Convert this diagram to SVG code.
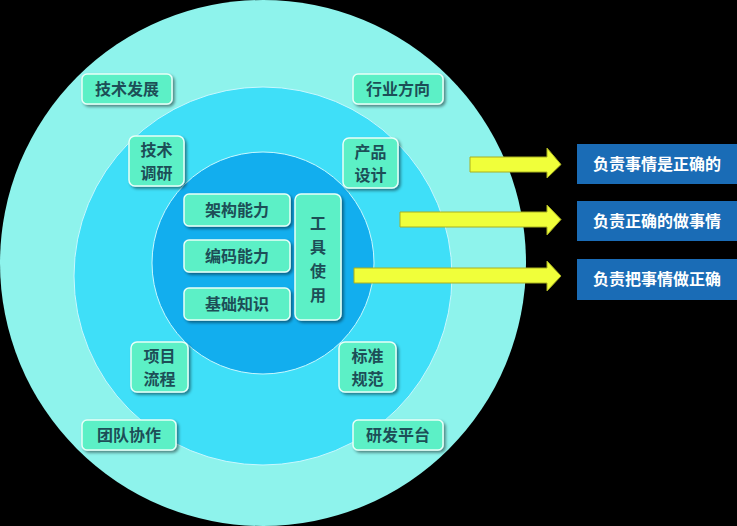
<svg xmlns="http://www.w3.org/2000/svg" width="737" height="526" viewBox="0 0 737 526">
<defs>
<filter id="sh" x="-20%" y="-20%" width="150%" height="150%"><feDropShadow dx="2" dy="2" stdDeviation="1.5" flood-color="#000" flood-opacity="0.45"/></filter>
<style>
.lb{fill:#5cf0c6;stroke:#e8fff8;stroke-width:1.5;filter:url(#sh)}
.t{font-family:"Noto Sans CJK SC",sans-serif;font-weight:bold;font-size:16px;fill:#1d4e57;text-anchor:middle}
.ar{fill:#f0ff3a;stroke:#a8b020;stroke-width:1}
.bx{fill:#1a6cb6}
.bt{font-family:"Noto Sans CJK SC",sans-serif;font-weight:bold;font-size:16px;fill:#fff;text-anchor:middle}
</style>
</defs>
<rect width="737" height="526" fill="#000"/>
<g id="circles">
<circle cx="263" cy="263" r="263" fill="#8ef3ec"/>
<circle cx="263" cy="276" r="189" fill="#3fdff8" stroke="#c8f8ff" stroke-width="1"/>
<circle cx="263" cy="263" r="111" fill="#12aeee" stroke="#c8f8ff" stroke-width="1"/>
</g>
<g id="n1"><rect class="lb" x="82" y="74" width="90" height="30" rx="5"/><text class="t" x="127" y="95">技术发展</text></g>
<g id="n2"><rect class="lb" x="353" y="74" width="90" height="30" rx="5"/><text class="t" x="398" y="95">行业方向</text></g>
<g id="n3"><rect class="lb" x="129" y="136" width="55" height="50" rx="6"/><text class="t" x="156.5" y="156">技术</text><text class="t" x="156.5" y="179">调研</text></g>
<g id="n4"><rect class="lb" x="343" y="138" width="55" height="50" rx="6"/><text class="t" x="370.5" y="158">产品</text><text class="t" x="370.5" y="181">设计</text></g>
<g id="n5"><rect class="lb" x="184" y="194" width="106" height="32" rx="5"/><text class="t" x="237" y="216">架构能力</text></g>
<g id="n6"><rect class="lb" x="184" y="240" width="106" height="32" rx="5"/><text class="t" x="237" y="262">编码能力</text></g>
<g id="n7"><rect class="lb" x="184" y="288" width="106" height="32" rx="5"/><text class="t" x="237" y="310">基础知识</text></g>
<g id="n8"><rect class="lb" x="295" y="194" width="46" height="126" rx="6"/><text class="t" x="318" y="229">工</text><text class="t" x="318" y="253">具</text><text class="t" x="318" y="277">使</text><text class="t" x="318" y="301">用</text></g>
<g id="n9"><rect class="lb" x="131" y="342" width="57" height="50" rx="6"/><text class="t" x="159.5" y="362">项目</text><text class="t" x="159.5" y="385">流程</text></g>
<g id="n10"><rect class="lb" x="339" y="342" width="57" height="50" rx="6"/><text class="t" x="367.5" y="362">标准</text><text class="t" x="367.5" y="385">规范</text></g>
<g id="n11"><rect class="lb" x="82" y="420" width="94" height="30" rx="5"/><text class="t" x="129" y="441">团队协作</text></g>
<g id="n12"><rect class="lb" x="353" y="420" width="90" height="30" rx="5"/><text class="t" x="398" y="441">研发平台</text></g>
<g id="connectors">
<polygon class="ar" points="470,157 547,157 547,148 561,164.5 547,178 547,172 470,172"/>
<polygon class="ar" points="400,212 547,212 547,205 561,219.5 547,235 547,227 400,227"/>
<polygon class="ar" points="354,268 547,268 547,261 561,276 547,291 547,283 354,283"/>
</g>
<g id="b1"><rect class="bx" x="577" y="144" width="160" height="40"/><text class="bt" x="657" y="170">负责事情是正确的</text></g>
<g id="b2"><rect class="bx" x="577" y="201" width="160" height="40"/><text class="bt" x="657" y="227">负责正确的做事情</text></g>
<g id="b3"><rect class="bx" x="577" y="259" width="160" height="41"/><text class="bt" x="657" y="285">负责把事情做正确</text></g>
</svg>
